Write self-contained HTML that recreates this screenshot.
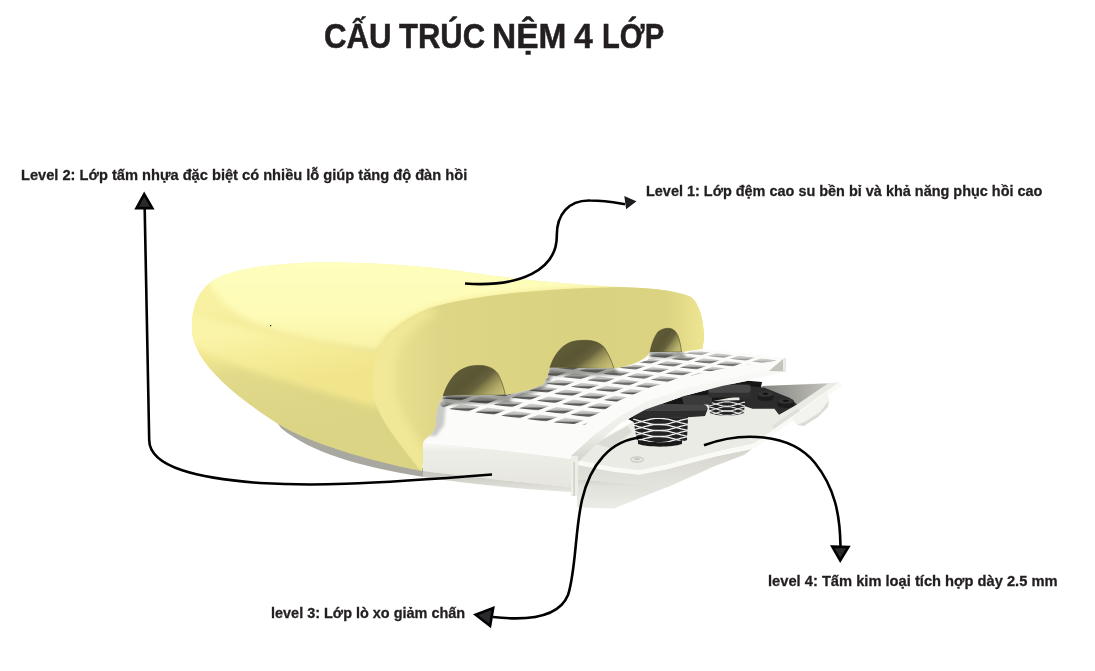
<!DOCTYPE html>
<html><head><meta charset="utf-8"><style>
html,body{margin:0;padding:0;background:#fff;}
body{width:1095px;height:671px;position:relative;overflow:hidden;font-family:"Liberation Sans",sans-serif;font-weight:bold;color:#231f20;}
.t{position:absolute;white-space:nowrap;line-height:1;}
.tw{top:18.8px;font-size:35.6px;transform-origin:0 0;-webkit-text-stroke:0.5px #231f20;}
.lab{font-size:15.5px;transform-origin:0 0;-webkit-text-stroke:0.3px #231f20;}
svg{position:absolute;left:0;top:0;}
</style></head><body>
<svg width="1095" height="671" viewBox="0 0 1095 671">
<defs>
<linearGradient id="gSide" gradientUnits="userSpaceOnUse" x1="250" y1="300" x2="275" y2="440">
 <stop offset="0" stop-color="#f8f1a2"/><stop offset="0.35" stop-color="#f1e690"/><stop offset="0.5" stop-color="#e2da8a"/><stop offset="0.75" stop-color="#ddd686"/><stop offset="1" stop-color="#dbd484"/>
</linearGradient>
<linearGradient id="gBand1" gradientUnits="userSpaceOnUse" x1="270" y1="325" x2="282" y2="385">
 <stop offset="0" stop-color="#faf4a8"/><stop offset="0.5" stop-color="#f6ec98"/><stop offset="1" stop-color="#f1e58c"/>
</linearGradient>
<linearGradient id="gTop" gradientUnits="userSpaceOnUse" x1="300" y1="262" x2="300" y2="340">
 <stop offset="0" stop-color="#fefebd"/><stop offset="0.7" stop-color="#fdfbb6"/><stop offset="1" stop-color="#faf5ab"/>
</linearGradient>
<linearGradient id="gCut" gradientUnits="userSpaceOnUse" x1="373" y1="0" x2="705" y2="0">
 <stop offset="0" stop-color="#f1e898"/><stop offset="0.06" stop-color="#e9e091"/><stop offset="0.2" stop-color="#ded686"/><stop offset="0.6" stop-color="#d9d280"/><stop offset="0.88" stop-color="#dbd382"/><stop offset="1" stop-color="#efe692"/>
</linearGradient>
<linearGradient id="gHole" x1="0" y1="0.2" x2="1" y2="0.75">
 <stop offset="0" stop-color="#625e38"/><stop offset="0.45" stop-color="#5a5634"/><stop offset="0.62" stop-color="#66623d"/><stop offset="0.72" stop-color="#8a844f"/><stop offset="0.85" stop-color="#aca464"/><stop offset="1" stop-color="#c4bc74"/>
</linearGradient>
<linearGradient id="gLip" x1="0" y1="0" x2="0" y2="1">
 <stop offset="0" stop-color="#fafaf7"/><stop offset="0.2" stop-color="#eeeee8"/><stop offset="1" stop-color="#e6e6df"/>
</linearGradient>
<linearGradient id="gUnder" x1="0" y1="0" x2="0" y2="1">
 <stop offset="0" stop-color="#c4c4bc"/><stop offset="1" stop-color="#e6e6e0"/>
</linearGradient>
<linearGradient id="gBase" gradientUnits="userSpaceOnUse" x1="0" y1="466" x2="0" y2="508">
 <stop offset="0" stop-color="#d6d6ce"/><stop offset="0.3" stop-color="#c9c9c1"/><stop offset="0.5" stop-color="#dcdcd5"/><stop offset="1" stop-color="#eaeae4"/>
</linearGradient>
<linearGradient id="gGH" x1="0" y1="0" x2="0" y2="1">
 <stop offset="0" stop-color="#3c3c3a"/><stop offset="0.5" stop-color="#777773"/><stop offset="1" stop-color="#b4b4b0"/>
</linearGradient>
<linearGradient id="gLow" x1="0" y1="0" x2="0" y2="1">
 <stop offset="0" stop-color="#d2d2ca"/><stop offset="0.25" stop-color="#e2e2dc"/><stop offset="1" stop-color="#ecece7"/>
</linearGradient>
<linearGradient id="gSideFace" x1="0" y1="0" x2="0" y2="1">
 <stop offset="0" stop-color="#d6d6ce"/><stop offset="1" stop-color="#e4e4de"/>
</linearGradient>
<linearGradient id="gBand" x1="0" y1="0" x2="0" y2="1">
 <stop offset="0" stop-color="#fafaf8"/><stop offset="0.7" stop-color="#ededE8"/><stop offset="1" stop-color="#d2d2ca"/>
</linearGradient>
<clipPath id="cFoam"><path d="M192,330 C191,312 196,295 207,285 C222,272 250,266 300,263 C360,261 430,266 480,274 C530,281 590,286 620,287 C650,288 675,290 691,297 C700,304 704,322 704,339 L701,356 L600,385 L520,400 L460,405 L446,418 L442,436 L423.4,441.5 L422,471 C380,463 320,447 285,428 C250,407 215,380 200,355 C194,343 192,336 192,330 Z"/></clipPath>
<filter id="fBlur" x="-10%" y="-10%" width="120%" height="120%"><feGaussianBlur stdDeviation="3"/></filter>
<linearGradient id="gWedge" x1="0" y1="0" x2="1" y2="0">
 <stop offset="0" stop-color="#858581"/><stop offset="0.5" stop-color="#a2a29c"/><stop offset="1" stop-color="#c4c4bc"/>
</linearGradient>
<linearGradient id="gHa" x1="0" y1="0" x2="0" y2="1">
 <stop offset="0" stop-color="#dadad6"/><stop offset="0.45" stop-color="#b8b8b4"/><stop offset="0.68" stop-color="#505050"/><stop offset="0.82" stop-color="#646462"/><stop offset="1" stop-color="#c4c4c0"/>
</linearGradient>
<linearGradient id="gHb" x1="0" y1="0" x2="0" y2="1">
 <stop offset="0" stop-color="#d8d8d4"/><stop offset="0.4" stop-color="#bcbcb8"/><stop offset="0.65" stop-color="#6a6a68"/><stop offset="0.85" stop-color="#7a7a78"/><stop offset="1" stop-color="#c0c0bc"/>
</linearGradient>
<linearGradient id="gHc" x1="0" y1="0" x2="0" y2="1">
 <stop offset="0" stop-color="#dadad6"/><stop offset="0.5" stop-color="#c0c0bc"/><stop offset="0.75" stop-color="#9a9a98"/><stop offset="1" stop-color="#c8c8c4"/>
</linearGradient>
<filter id="fBlur2" x="-20%" y="-50%" width="140%" height="200%"><feGaussianBlur stdDeviation="1.5"/></filter>
<clipPath id="cCut"><path d="M422,471 L418.5,468.3 C405,450 385,428 376,405 C371,390 372,365 378,350 C385,333 405,318 430,308 C470,295 540,289 620,287 C650,288 675,290 691,297 C700,304 704,322 704,339 L701,356 L600,385 L520,400 L460,405 L446,418 L442,436 L423.4,441.5 Z"/></clipPath>
<filter id="fBlur6" x="-30%" y="-30%" width="160%" height="160%"><feGaussianBlur stdDeviation="5"/></filter>
<clipPath id="cGrid"><path d="M440.4,401.6 L443.2,396 L505.4,395 C520,392.5 538,388 543.5,384 C547,380 548.5,373 549.9,367.8 L614,368.6 C630,366 645,361 650,352 L682,352 L701,349 L785,358 L785,365.5 L752,373 L722,380 L684,389 L645,402 L620,416 L594,435 L571,456 L571,459 L423.4,441 L432.3,433 C435,429 436,426 436,420 C436.5,412 438,405 440.4,401.6 Z"/></clipPath>
<clipPath id="cHoles"><path d="M440,404 L443.2,396 L505.4,395 C520,392.5 538,388 543.5,384 C547,380 548.5,373 549.9,367.8 L614,368.6 L630,365.7 L648,360 L650,352.4 L681.5,352 L701,351.5 L777,360 L775,361 L744,365 L716,370 L684,377.5 L651,387 L618,401 L598,414 L585,425 L448,414 Z"/></clipPath>
<filter id="fSoft" x="-5%" y="-5%" width="110%" height="110%"><feGaussianBlur stdDeviation="0.7"/></filter>
</defs>

<!-- base under foam -->
<path d="M268,410 C300,436 350,456 424,468 L424,477 C360,467 310,452 281,428 Z" fill="#a8a8a0"/>

<!-- lower base piece -->
<path d="M577,479 L667,487 L640,498 L614,508.5 L577,507.5 Z" fill="url(#gLow)"/>
<!-- side face below rim -->
<path d="M577,464 L639,473 L664.5,469.4 L715,456.6 L752,449 L744,455 L715,466 L667,487.5 L577,479.5 Z" fill="url(#gSideFace)"/>
<!-- metal plate top -->
<path d="M575,455 L600,440 L640,418 L700,400 L760,386 L826,383 L840,382.5 L756,443 L715,452 L664.5,465.6 L639,470.7 L613.4,467.5 L577.6,460.5 Z" fill="#ebebe5"/>
<!-- rim -->
<polyline points="577.6,462.8 613.4,469.5 639,472.5 664.5,467.6 715,454.3 754,446 841,383.5" fill="none" stroke="#f9f9f6" stroke-width="4.6" stroke-linejoin="round"/>
<!-- washer -->
<ellipse cx="637" cy="459.5" rx="6.5" ry="2.6" fill="#e6e6e0" stroke="#b8b8b0" stroke-width="0.8"/><ellipse cx="637" cy="459" rx="3" ry="1.1" fill="#c4c4bc"/>
<!-- far back gray wedge -->
<path d="M762,386 L828,383.5 L797,404.5 L770,398 Z" fill="url(#gWedge)"/>
<!-- shadow under band -->
<path d="M628,419 L645.6,409.5 L684,396 L722,386 L748,380.8 L762,382 L760,392 L708,402 L690,412 L660,420 L634,422 Z" fill="#161616"/>
<path d="M596,444 L606,438 L628,426 L632,432 L610,448 Z" fill="#dcdcd6"/>
<!-- right dark polygon -->
<path d="M738,385 L764,387.4 L790,398 L797,404.6 L779,414.8 L774.4,408.8 L752.5,408.8 L740,404.6 Z" fill="#2c2c2c"/>
<!-- spring 2 -->
<path d="M708,401 L745,400 L744,413 C736,416.5 716,416.5 710,413 Z" fill="#232323"/>
<g stroke="#e4e4e4" stroke-width="1.1" fill="none"><polyline points="709.0,402.1 710.5,402.4 712.0,402.8 713.5,403.2 715.0,403.7 716.5,404.2 718.0,404.6 719.5,405.1 721.0,405.4 722.5,405.8 724.0,406.0 725.5,406.1 727.0,406.2 728.5,406.1 730.0,406.0 731.5,405.8 733.0,405.4 734.5,405.1 736.0,404.6 737.5,404.2 739.0,403.7 740.5,403.2 742.0,402.8 743.5,402.4 745.0,402.1"/><polyline points="709.0,405.9 710.5,405.6 712.0,405.2 713.5,404.8 715.0,404.3 716.5,403.8 718.0,403.4 719.5,402.9 721.0,402.6 722.5,402.2 724.0,402.0 725.5,401.9 727.0,401.8 728.5,401.9 730.0,402.0 731.5,402.2 733.0,402.6 734.5,402.9 736.0,403.4 737.5,403.8 739.0,404.3 740.5,404.8 742.0,405.2 743.5,405.6 745.0,405.9"/><polyline points="709.0,406.9 710.5,407.2 712.0,407.6 713.5,408.0 715.0,408.5 716.5,409.0 718.0,409.4 719.5,409.9 721.0,410.2 722.5,410.6 724.0,410.8 725.5,410.9 727.0,411.0 728.5,410.9 730.0,410.8 731.5,410.6 733.0,410.2 734.5,409.9 736.0,409.4 737.5,409.0 739.0,408.5 740.5,408.0 742.0,407.6 743.5,407.2 745.0,406.9"/><polyline points="709.0,410.7 710.5,410.4 712.0,410.0 713.5,409.6 715.0,409.1 716.5,408.6 718.0,408.2 719.5,407.7 721.0,407.4 722.5,407.0 724.0,406.8 725.5,406.7 727.0,406.6 728.5,406.7 730.0,406.8 731.5,407.0 733.0,407.4 734.5,407.7 736.0,408.2 737.5,408.6 739.0,409.1 740.5,409.6 742.0,410.0 743.5,410.4 745.0,410.7"/><polyline points="709.0,411.3 710.5,411.6 712.0,412.0 713.5,412.4 715.0,412.9 716.5,413.4 718.0,413.8 719.5,414.3 721.0,414.6 722.5,415.0 724.0,415.2 725.5,415.3 727.0,415.4 728.5,415.3 730.0,415.2 731.5,415.0 733.0,414.6 734.5,414.3 736.0,413.8 737.5,413.4 739.0,412.9 740.5,412.4 742.0,412.0 743.5,411.6 745.0,411.3"/><polyline points="709.0,415.1 710.5,414.8 712.0,414.4 713.5,414.0 715.0,413.5 716.5,413.0 718.0,412.6 719.5,412.1 721.0,411.8 722.5,411.4 724.0,411.2 725.5,411.1 727.0,411.0 728.5,411.1 730.0,411.2 731.5,411.4 733.0,411.8 734.5,412.1 736.0,412.6 737.5,413.0 739.0,413.5 740.5,414.0 742.0,414.4 743.5,414.8 745.0,415.1"/></g>
<!-- bar + plate 2 -->
<path d="M681,395.5 L712,395 L712,404.5 L684,405 Z" fill="#3a3a3a"/>
<rect x="708" y="384.6" width="43" height="12.8" rx="3" fill="#303030"/>
<rect x="708.5" y="384.8" width="42" height="8" rx="3" fill="#474747"/>
<!-- knobs -->
<path d="M757.5,394 L773.5,394 L773.5,399 C771,401.5 760,401.5 757.5,399 Z" fill="#1c1c1c"/><ellipse cx="765.5" cy="394" rx="8" ry="2.8" fill="#333"/><ellipse cx="765.5" cy="393.8" rx="3" ry="1" fill="#111"/>
<path d="M777.5,401 L794,401 L794,406 C791,408.5 780,408.5 777.5,406 Z" fill="#1c1c1c"/><ellipse cx="785.8" cy="401" rx="8.2" ry="2.8" fill="#333"/><ellipse cx="785.8" cy="400.8" rx="3" ry="1" fill="#111"/>
<!-- spring 1 -->
<path d="M633,418 L688,417 L687,440 C676,446 646,446 637,441 Z" fill="#232323"/>
<g stroke="#efefef" stroke-width="1.3" fill="none"><polyline points="633.0,419.2 635.3,419.7 637.6,420.3 639.9,421.0 642.2,421.6 644.5,422.3 646.8,422.9 649.0,423.5 651.3,424.0 653.6,424.3 655.9,424.6 658.2,424.7 660.5,424.7 662.8,424.5 665.1,424.2 667.4,423.8 669.7,423.3 672.0,422.7 674.2,422.1 676.5,421.4 678.8,420.8 681.1,420.1 683.4,419.6 685.7,419.1 688.0,418.7"/><polyline points="633.0,423.8 635.3,423.3 637.6,422.7 639.9,422.0 642.2,421.4 644.5,420.7 646.8,420.1 649.0,419.5 651.3,419.0 653.6,418.7 655.9,418.4 658.2,418.3 660.5,418.3 662.8,418.5 665.1,418.8 667.4,419.2 669.7,419.7 672.0,420.3 674.2,420.9 676.5,421.6 678.8,422.2 681.1,422.9 683.4,423.4 685.7,423.9 688.0,424.3"/><polyline points="633.0,425.2 635.3,425.7 637.6,426.3 639.9,427.0 642.2,427.6 644.5,428.3 646.8,428.9 649.0,429.5 651.3,430.0 653.6,430.3 655.9,430.6 658.2,430.7 660.5,430.7 662.8,430.5 665.1,430.2 667.4,429.8 669.7,429.3 672.0,428.7 674.2,428.1 676.5,427.4 678.8,426.8 681.1,426.1 683.4,425.6 685.7,425.1 688.0,424.7"/><polyline points="633.0,429.8 635.3,429.3 637.6,428.7 639.9,428.0 642.2,427.4 644.5,426.7 646.8,426.1 649.0,425.5 651.3,425.0 653.6,424.7 655.9,424.4 658.2,424.3 660.5,424.3 662.8,424.5 665.1,424.8 667.4,425.2 669.7,425.7 672.0,426.3 674.2,426.9 676.5,427.6 678.8,428.2 681.1,428.9 683.4,429.4 685.7,429.9 688.0,430.3"/><polyline points="633.0,431.2 635.3,431.7 637.6,432.3 639.9,433.0 642.2,433.6 644.5,434.3 646.8,434.9 649.0,435.5 651.3,436.0 653.6,436.3 655.9,436.6 658.2,436.7 660.5,436.7 662.8,436.5 665.1,436.2 667.4,435.8 669.7,435.3 672.0,434.7 674.2,434.1 676.5,433.4 678.8,432.8 681.1,432.1 683.4,431.6 685.7,431.1 688.0,430.7"/><polyline points="633.0,435.8 635.3,435.3 637.6,434.7 639.9,434.0 642.2,433.4 644.5,432.7 646.8,432.1 649.0,431.5 651.3,431.0 653.6,430.7 655.9,430.4 658.2,430.3 660.5,430.3 662.8,430.5 665.1,430.8 667.4,431.2 669.7,431.7 672.0,432.3 674.2,432.9 676.5,433.6 678.8,434.2 681.1,434.9 683.4,435.4 685.7,435.9 688.0,436.3"/><polyline points="633.0,437.2 635.3,437.7 637.6,438.3 639.9,439.0 642.2,439.6 644.5,440.3 646.8,440.9 649.0,441.5 651.3,442.0 653.6,442.3 655.9,442.6 658.2,442.7 660.5,442.7 662.8,442.5 665.1,442.2 667.4,441.8 669.7,441.3 672.0,440.7 674.2,440.1 676.5,439.4 678.8,438.8 681.1,438.1 683.4,437.6 685.7,437.1 688.0,436.7"/><polyline points="633.0,441.8 635.3,441.3 637.6,440.7 639.9,440.0 642.2,439.4 644.5,438.7 646.8,438.1 649.0,437.5 651.3,437.0 653.6,436.7 655.9,436.4 658.2,436.3 660.5,436.3 662.8,436.5 665.1,436.8 667.4,437.2 669.7,437.7 672.0,438.3 674.2,438.9 676.5,439.6 678.8,440.2 681.1,440.9 683.4,441.4 685.7,441.9 688.0,442.3"/></g>
<path d="M638,440 C650,443 674,443 682,440 L682,444 C672,447.5 648,447.5 638,444 Z" fill="#1a1a1a"/>
<!-- top plate 1 -->
<path d="M633,415 L640,410 L652,403.8 L701.8,404.4 C706,405 707.5,406.5 707.5,409 L707,411 L705,416 C690,417.5 660,418 633,418.5 Z" fill="#2c2c2c"/>
<path d="M640,410 L652,403.8 L701.8,404.4 C706,405 707.5,406.5 707.5,409 L706,410.5 C690,411 660,411 640,411 Z" fill="#444"/>
<!-- right tabs -->
<path d="M792,418 L827,392 L829,400 L820,412 L806,421 L797,425 Z" fill="#f3f3ef"/>
<path d="M797,425 L806,421 L820,412 L829,400 L828,407 L818,417 L804,426 Z" fill="#dcdcd6"/>
<path d="M772,426 L798,408 L800,411 L774,429 Z" fill="#e0e0da"/>
<!-- foam silhouette -->
<path d="M192,330 C191,312 196,295 207,285 C222,272 250,266 300,263 C360,261 430,266 480,274 C530,281 590,286 620,287 C650,288 675,290 691,297 C700,304 704,322 704,339 L701,356 L600,385 L520,400 L460,405 L446,418 L442,436 L423.4,441.5 L422,471 C380,463 320,447 285,428 C250,407 215,380 200,355 C194,343 192,336 192,330 Z" fill="url(#gSide)"/>
<!-- top surface -->
<g clip-path="url(#cFoam)"><path filter="url(#fBlur)" d="M186,312 C230,326 300,340 380,352 L378,408 C350,400 300,386 250,370 C225,361 205,352 186,342 Z" fill="url(#gBand1)"/></g>
<g clip-path="url(#cFoam)"><path filter="url(#fBlur)" d="M205,275 C222,264 250,259 300,257 C360,255 430,260 480,268 C530,276 590,282 640,284 L620,287 C560,288 480,293 430,308 C405,318 385,333 378,350 C340,346 300,338 265,327 C238,318 218,303 205,275 Z" fill="url(#gTop)"/></g>
<!-- cut face -->
<path d="M422,471 L418.5,468.3 C405,450 385,428 376,405 C371,390 372,365 378,350 C385,333 405,318 430,308 C470,295 540,289 620,287 C650,288 675,290 691,297 C700,304 704,322 704,339 L701,356 L600,385 L520,400 L460,405 L446,418 L442,436 L423.4,441.5 Z" fill="url(#gCut)"/>
<g clip-path="url(#cCut)"><path filter="url(#fBlur6)" d="M425,478 L414,470 C400,450 380,428 372,405 C367,390 368,365 374,350 C381,333 401,318 426,308 L440,312 C420,322 404,336 398,352 C393,366 393,388 398,402 C405,425 425,448 442,468 Z" fill="#f2e898" opacity="0.9"/></g>
<!-- holes in foam -->
<path d="M443.2,396 C446,386 452,376 459,371 C466,366.5 472,365.4 479,365.4 C487,365.4 494,368 498,374 C502,381 504,389 505.4,395 Z" fill="url(#gHole)" stroke="#4a4728" stroke-width="0.6"/>
<path d="M549.9,367.8 C552.5,359 558,350 564.5,345.5 C571,341 577,340.3 586,340.3 C594,340.5 601,343 605,348.5 C609,355 612,362 614,368.6 Z" fill="url(#gHole)" stroke="#4a4728" stroke-width="0.6"/>
<path d="M650,352.4 C651.5,344 654.5,336 658.5,331.5 C662,329 665,328.3 668.5,328.3 C672.5,328.5 676,331 678,336 C680,341 681,347 681.5,352 Z" fill="url(#gHole)" stroke="#4a4728" stroke-width="0.6"/>

<!-- grid plate top surface -->
<path d="M440.4,401.6 L443.2,396 L505.4,395 C520,392.5 538,388 543.5,384 C547,380 548.5,373 549.9,367.8 L614,368.6 C630,366 645,361 650,352 L682,352 L701,349 L785,358 L785,365.5 L752,373 L722,380 L684,389 L645,402 L620,416 L594,435 L571,456 L571,459 L423.4,441 L432.3,433 C435,429 436,426 436,420 C436.5,412 438,405 440.4,401.6 Z" fill="#fbfbf9"/>
<g clip-path="url(#cHoles)"><g filter="url(#fSoft)">
<path fill="url(#gHa)" d="M267.2,385.1L285.9,387.6L297.8,382.9L279.1,380.4Z"/>
<path fill="url(#gHa)" d="M293.2,388.5L311.9,391.0L323.8,386.3L305.1,383.8Z"/>
<path fill="url(#gHa)" d="M319.2,391.9L337.9,394.4L349.8,389.7L331.1,387.2Z"/>
<path fill="url(#gHa)" d="M345.2,395.3L363.9,397.8L375.8,393.1L357.1,390.6Z"/>
<path fill="url(#gHa)" d="M371.2,398.7L389.9,401.2L401.8,396.5L383.1,394.0Z"/>
<path fill="url(#gHa)" d="M397.2,402.1L415.9,404.6L427.8,399.9L409.1,397.4Z"/>
<path fill="url(#gHa)" d="M423.2,405.5L441.9,408.0L453.8,403.3L435.1,400.8Z"/>
<path fill="url(#gHa)" d="M449.2,408.9L467.9,411.4L479.8,406.7L461.1,404.2Z"/>
<path fill="url(#gHa)" d="M475.2,412.3L493.9,414.8L505.8,410.1L487.1,407.6Z"/>
<path fill="url(#gHa)" d="M501.2,415.7L519.9,418.2L531.8,413.5L513.1,411.0Z"/>
<path fill="url(#gHa)" d="M527.2,419.1L545.9,421.6L557.8,416.9L539.1,414.4Z"/>
<path fill="url(#gHa)" d="M553.2,422.5L571.9,425.0L583.8,420.3L565.1,417.8Z"/>
<path fill="url(#gHa)" d="M579.2,425.9L597.9,428.4L609.8,423.7L591.1,421.2Z"/>
<path fill="url(#gHa)" d="M605.2,429.3L623.9,431.8L635.8,427.1L617.1,424.6Z"/>
<path fill="url(#gHa)" d="M631.2,432.7L649.9,435.2L661.8,430.5L643.1,428.0Z"/>
<path fill="url(#gHa)" d="M657.2,436.1L675.9,438.6L687.8,433.9L669.1,431.4Z"/>
<path fill="url(#gHa)" d="M683.2,439.5L701.9,442.0L713.8,437.3L695.1,434.8Z"/>
<path fill="url(#gHa)" d="M709.2,442.9L727.9,445.4L739.8,440.7L721.1,438.2Z"/>
<path fill="url(#gHa)" d="M735.2,446.3L753.9,448.8L765.8,444.1L747.1,441.6Z"/>
<path fill="url(#gHa)" d="M761.2,449.7L779.9,452.2L791.8,447.5L773.1,445.0Z"/>
<path fill="url(#gHa)" d="M288.7,378.2L307.1,380.6L318.7,376.0L300.2,373.6Z"/>
<path fill="url(#gHa)" d="M314.3,381.5L332.7,383.9L344.3,379.3L325.9,376.9Z"/>
<path fill="url(#gHa)" d="M339.9,384.8L358.3,387.2L369.9,382.6L351.5,380.2Z"/>
<path fill="url(#gHa)" d="M365.5,388.2L384.0,390.6L395.5,386.0L377.1,383.6Z"/>
<path fill="url(#gHa)" d="M391.1,391.5L409.6,393.9L421.2,389.3L402.7,386.9Z"/>
<path fill="url(#gHa)" d="M416.7,394.8L435.2,397.2L446.8,392.6L428.3,390.2Z"/>
<path fill="url(#gHa)" d="M442.4,398.2L460.8,400.6L472.4,396.0L454.0,393.6Z"/>
<path fill="url(#gHa)" d="M468.0,401.5L486.4,403.9L498.0,399.3L479.6,396.9Z"/>
<path fill="url(#gHa)" d="M493.6,404.8L512.0,407.2L523.6,402.6L505.2,400.2Z"/>
<path fill="url(#gHa)" d="M519.2,408.2L537.7,410.6L549.3,406.0L530.8,403.6Z"/>
<path fill="url(#gHa)" d="M544.8,411.5L563.3,413.9L574.9,409.3L556.4,406.9Z"/>
<path fill="url(#gHa)" d="M570.5,414.8L588.9,417.2L600.5,412.6L582.0,410.2Z"/>
<path fill="url(#gHa)" d="M596.1,418.2L614.5,420.6L626.1,416.0L607.7,413.6Z"/>
<path fill="url(#gHa)" d="M621.7,421.5L640.1,423.9L651.7,419.3L633.3,416.9Z"/>
<path fill="url(#gHa)" d="M647.3,424.8L665.8,427.2L677.3,422.6L658.9,420.2Z"/>
<path fill="url(#gHa)" d="M672.9,428.1L691.4,430.5L703.0,426.0L684.5,423.6Z"/>
<path fill="url(#gHa)" d="M698.6,431.5L717.0,433.9L728.6,429.3L710.1,426.9Z"/>
<path fill="url(#gHa)" d="M724.2,434.8L742.6,437.2L754.2,432.6L735.8,430.2Z"/>
<path fill="url(#gHa)" d="M749.8,438.1L768.2,440.5L779.8,436.0L761.4,433.6Z"/>
<path fill="url(#gHa)" d="M775.4,441.5L793.9,443.9L805.4,439.3L787.0,436.9Z"/>
<path fill="url(#gHa)" d="M309.7,371.4L327.9,373.8L339.2,369.4L321.0,367.0Z"/>
<path fill="url(#gHa)" d="M334.9,374.7L353.1,377.0L364.4,372.6L346.3,370.3Z"/>
<path fill="url(#gHa)" d="M360.2,378.0L378.3,380.3L389.7,375.9L371.5,373.5Z"/>
<path fill="url(#gHa)" d="M385.4,381.2L403.6,383.6L414.9,379.1L396.7,376.8Z"/>
<path fill="url(#gHa)" d="M410.6,384.5L428.8,386.8L440.1,382.4L422.0,380.1Z"/>
<path fill="url(#gHa)" d="M435.9,387.8L454.0,390.1L465.4,385.7L447.2,383.3Z"/>
<path fill="url(#gHa)" d="M461.1,391.0L479.3,393.4L490.6,388.9L472.4,386.6Z"/>
<path fill="url(#gHa)" d="M486.4,394.3L504.5,396.6L515.8,392.2L497.7,389.9Z"/>
<path fill="url(#gHa)" d="M511.6,397.5L529.8,399.9L541.1,395.5L522.9,393.1Z"/>
<path fill="url(#gHa)" d="M536.8,400.8L555.0,403.2L566.3,398.7L548.2,396.4Z"/>
<path fill="url(#gHa)" d="M562.1,404.1L580.2,406.4L591.6,402.0L573.4,399.6Z"/>
<path fill="url(#gHa)" d="M587.3,407.3L605.5,409.7L616.8,405.3L598.6,402.9Z"/>
<path fill="url(#gHa)" d="M612.5,410.6L630.7,412.9L642.0,408.5L623.9,406.2Z"/>
<path fill="url(#gHa)" d="M637.8,413.9L655.9,416.2L667.3,411.8L649.1,409.4Z"/>
<path fill="url(#gHa)" d="M663.0,417.1L681.2,419.5L692.5,415.0L674.3,412.7Z"/>
<path fill="url(#gHa)" d="M688.2,420.4L706.4,422.7L717.7,418.3L699.6,416.0Z"/>
<path fill="url(#gHa)" d="M713.5,423.7L731.7,426.0L743.0,421.6L724.8,419.2Z"/>
<path fill="url(#gHa)" d="M738.7,426.9L756.9,429.3L768.2,424.8L750.1,422.5Z"/>
<path fill="url(#gHa)" d="M764.0,430.2L782.1,432.5L793.5,428.1L775.3,425.8Z"/>
<path fill="url(#gHa)" d="M789.2,433.4L807.4,435.8L818.7,431.4L800.5,429.0Z"/>
<path fill="url(#gHa)" d="M330.3,364.9L348.2,367.2L359.3,363.0L341.4,360.7Z"/>
<path fill="url(#gHa)" d="M355.2,368.1L373.1,370.4L384.1,366.2L366.3,363.9Z"/>
<path fill="url(#gHa)" d="M380.0,371.3L397.9,373.6L409.0,369.4L391.1,367.1Z"/>
<path fill="url(#gHa)" d="M404.9,374.5L422.8,376.8L433.9,372.5L416.0,370.2Z"/>
<path fill="url(#gHa)" d="M429.7,377.7L447.6,380.0L458.7,375.7L440.8,373.4Z"/>
<path fill="url(#gHa)" d="M454.6,380.9L472.5,383.2L483.6,378.9L465.7,376.6Z"/>
<path fill="url(#gHa)" d="M479.5,384.1L497.4,386.4L508.4,382.1L490.5,379.8Z"/>
<path fill="url(#gHa)" d="M504.3,387.3L522.2,389.6L533.3,385.3L515.4,383.0Z"/>
<path fill="url(#gHa)" d="M529.2,390.5L547.1,392.8L558.1,388.5L540.2,386.2Z"/>
<path fill="url(#gHa)" d="M554.0,393.7L571.9,396.0L583.0,391.7L565.1,389.4Z"/>
<path fill="url(#gHa)" d="M578.9,396.9L596.8,399.2L607.9,394.9L590.0,392.6Z"/>
<path fill="url(#gHa)" d="M603.7,400.1L621.6,402.4L632.7,398.1L614.8,395.8Z"/>
<path fill="url(#gHa)" d="M628.6,403.3L646.5,405.6L657.6,401.3L639.7,399.0Z"/>
<path fill="url(#gHa)" d="M653.5,406.5L671.3,408.8L682.4,404.5L664.5,402.2Z"/>
<path fill="url(#gHa)" d="M678.3,409.7L696.2,412.0L707.3,407.7L689.4,405.4Z"/>
<path fill="url(#gHa)" d="M703.2,412.9L721.1,415.2L732.1,410.9L714.2,408.6Z"/>
<path fill="url(#gHa)" d="M728.0,416.1L745.9,418.4L757.0,414.1L739.1,411.8Z"/>
<path fill="url(#gHa)" d="M752.9,419.3L770.8,421.6L781.8,417.3L763.9,415.0Z"/>
<path fill="url(#gHa)" d="M777.7,422.5L795.6,424.8L806.7,420.5L788.8,418.2Z"/>
<path fill="url(#gHa)" d="M802.6,425.7L820.5,428.0L831.6,423.7L813.7,421.4Z"/>
<path fill="url(#gHa)" d="M350.6,358.7L368.2,360.9L379.0,356.8L361.4,354.6Z"/>
<path fill="url(#gHa)" d="M375.0,361.8L392.7,364.1L403.5,359.9L385.8,357.7Z"/>
<path fill="url(#gHa)" d="M399.5,364.9L417.1,367.2L427.9,363.1L410.3,360.8Z"/>
<path fill="url(#gHa)" d="M424.0,368.1L441.6,370.3L452.4,366.2L434.8,363.9Z"/>
<path fill="url(#gHa)" d="M448.5,371.2L466.1,373.4L476.9,369.3L459.3,367.1Z"/>
<path fill="url(#gHa)" d="M472.9,374.3L490.6,376.6L501.4,372.4L483.7,370.2Z"/>
<path fill="url(#gHa)" d="M497.4,377.4L515.0,379.7L525.8,375.6L508.2,373.3Z"/>
<path fill="url(#gHa)" d="M521.9,380.6L539.5,382.8L550.3,378.7L532.7,376.5Z"/>
<path fill="url(#gHa)" d="M546.4,383.7L564.0,386.0L574.8,381.8L557.2,379.6Z"/>
<path fill="url(#gHa)" d="M570.8,386.8L588.5,389.1L599.3,385.0L581.6,382.7Z"/>
<path fill="url(#gHa)" d="M595.3,390.0L612.9,392.2L623.7,388.1L606.1,385.8Z"/>
<path fill="url(#gHa)" d="M619.8,393.1L637.4,395.3L648.2,391.2L630.6,389.0Z"/>
<path fill="url(#gHa)" d="M644.3,396.2L661.9,398.5L672.7,394.3L655.1,392.1Z"/>
<path fill="url(#gHa)" d="M668.7,399.3L686.4,401.6L697.2,397.5L679.5,395.2Z"/>
<path fill="url(#gHa)" d="M693.2,402.5L710.8,404.7L721.6,400.6L704.0,398.3Z"/>
<path fill="url(#gHa)" d="M717.7,405.6L735.3,407.9L746.1,403.7L728.5,401.5Z"/>
<path fill="url(#gHa)" d="M742.2,408.7L759.8,411.0L770.6,406.9L753.0,404.6Z"/>
<path fill="url(#gHa)" d="M766.6,411.9L784.2,414.1L795.1,410.0L777.4,407.7Z"/>
<path fill="url(#gHa)" d="M791.1,415.0L808.7,417.2L819.5,413.1L801.9,410.9Z"/>
<path fill="url(#gHa)" d="M815.6,418.1L833.2,420.4L844.0,416.2L826.4,414.0Z"/>
<path fill="url(#gHb)" d="M370.4,352.7L387.7,354.9L398.3,350.9L381.0,348.7Z"/>
<path fill="url(#gHb)" d="M394.5,355.7L411.8,357.9L422.4,354.0L405.0,351.8Z"/>
<path fill="url(#gHb)" d="M418.6,358.8L435.9,361.0L446.5,357.0L429.1,354.8Z"/>
<path fill="url(#gHb)" d="M442.7,361.8L460.0,364.0L470.6,360.1L453.2,357.9Z"/>
<path fill="url(#gHb)" d="M466.8,364.9L484.1,367.1L494.7,363.1L477.3,360.9Z"/>
<path fill="url(#gHb)" d="M490.9,368.0L508.2,370.2L518.8,366.2L501.4,364.0Z"/>
<path fill="url(#gHb)" d="M515.0,371.0L532.3,373.2L542.9,369.3L525.5,367.1Z"/>
<path fill="url(#gHb)" d="M539.0,374.1L556.4,376.3L567.0,372.3L549.6,370.1Z"/>
<path fill="url(#gHb)" d="M563.1,377.1L580.5,379.3L591.0,375.4L573.7,373.2Z"/>
<path fill="url(#gHb)" d="M587.2,380.2L604.6,382.4L615.1,378.4L597.8,376.2Z"/>
<path fill="url(#gHb)" d="M611.3,383.3L628.7,385.5L639.2,381.5L621.9,379.3Z"/>
<path fill="url(#gHb)" d="M635.4,386.3L652.8,388.5L663.3,384.6L646.0,382.4Z"/>
<path fill="url(#gHb)" d="M659.5,389.4L676.9,391.6L687.4,387.6L670.1,385.4Z"/>
<path fill="url(#gHb)" d="M683.6,392.4L701.0,394.6L711.5,390.7L694.2,388.5Z"/>
<path fill="url(#gHb)" d="M707.7,395.5L725.0,397.7L735.6,393.7L718.3,391.5Z"/>
<path fill="url(#gHb)" d="M731.8,398.6L749.1,400.8L759.7,396.8L742.4,394.6Z"/>
<path fill="url(#gHb)" d="M755.9,401.6L773.2,403.8L783.8,399.9L766.4,397.7Z"/>
<path fill="url(#gHb)" d="M780.0,404.7L797.3,406.9L807.9,402.9L790.5,400.7Z"/>
<path fill="url(#gHb)" d="M804.1,407.7L821.4,409.9L832.0,406.0L814.6,403.8Z"/>
<path fill="url(#gHb)" d="M828.2,410.8L845.5,413.0L856.1,409.0L838.7,406.8Z"/>
<path fill="url(#gHb)" d="M389.8,346.9L406.9,349.0L417.2,345.2L400.1,343.1Z"/>
<path fill="url(#gHb)" d="M413.5,349.9L430.6,352.0L440.9,348.2L423.8,346.1Z"/>
<path fill="url(#gHb)" d="M437.3,352.9L454.3,355.0L464.6,351.2L447.6,349.1Z"/>
<path fill="url(#gHb)" d="M461.0,355.9L478.0,358.0L488.3,354.2L471.3,352.0Z"/>
<path fill="url(#gHb)" d="M484.7,358.9L501.7,361.0L512.1,357.2L495.0,355.0Z"/>
<path fill="url(#gHb)" d="M508.4,361.8L525.5,364.0L535.8,360.2L518.7,358.0Z"/>
<path fill="url(#gHb)" d="M532.1,364.8L549.2,367.0L559.5,363.2L542.4,361.0Z"/>
<path fill="url(#gHb)" d="M555.8,367.8L572.9,370.0L583.2,366.2L566.1,364.0Z"/>
<path fill="url(#gHb)" d="M579.5,370.8L596.6,373.0L606.9,369.2L589.8,367.0Z"/>
<path fill="url(#gHb)" d="M603.2,373.8L620.3,376.0L630.6,372.2L613.5,370.0Z"/>
<path fill="url(#gHb)" d="M626.9,376.8L644.0,379.0L654.3,375.1L637.3,373.0Z"/>
<path fill="url(#gHb)" d="M650.7,379.8L667.7,382.0L678.0,378.1L661.0,376.0Z"/>
<path fill="url(#gHb)" d="M674.4,382.8L691.4,384.9L701.7,381.1L684.7,379.0Z"/>
<path fill="url(#gHb)" d="M698.1,385.8L715.2,387.9L725.5,384.1L708.4,382.0Z"/>
<path fill="url(#gHb)" d="M721.8,388.8L738.9,390.9L749.2,387.1L732.1,385.0Z"/>
<path fill="url(#gHb)" d="M745.5,391.8L762.6,393.9L772.9,390.1L755.8,388.0Z"/>
<path fill="url(#gHb)" d="M769.2,394.8L786.3,396.9L796.6,393.1L779.5,390.9Z"/>
<path fill="url(#gHb)" d="M792.9,397.8L810.0,399.9L820.3,396.1L803.2,393.9Z"/>
<path fill="url(#gHb)" d="M816.6,400.7L833.7,402.9L844.0,399.1L826.9,396.9Z"/>
<path fill="url(#gHb)" d="M840.4,403.7L857.4,405.9L867.7,402.1L850.7,399.9Z"/>
<path fill="url(#gHb)" d="M408.9,341.3L425.7,343.5L435.7,339.8L418.9,337.7Z"/>
<path fill="url(#gHb)" d="M432.2,344.3L449.0,346.4L459.0,342.7L442.2,340.6Z"/>
<path fill="url(#gHb)" d="M455.5,347.2L472.3,349.3L482.4,345.6L465.6,343.5Z"/>
<path fill="url(#gHb)" d="M478.9,350.1L495.7,352.2L505.7,348.6L488.9,346.5Z"/>
<path fill="url(#gHb)" d="M502.2,353.0L519.0,355.2L529.0,351.5L512.2,349.4Z"/>
<path fill="url(#gHb)" d="M525.5,356.0L542.3,358.1L552.4,354.4L535.6,352.3Z"/>
<path fill="url(#gHb)" d="M548.8,358.9L565.6,361.0L575.7,357.3L558.9,355.2Z"/>
<path fill="url(#gHb)" d="M572.2,361.8L589.0,363.9L599.0,360.3L582.2,358.2Z"/>
<path fill="url(#gHb)" d="M595.5,364.7L612.3,366.8L622.4,363.2L605.6,361.1Z"/>
<path fill="url(#gHb)" d="M618.8,367.7L635.6,369.8L645.7,366.1L628.9,364.0Z"/>
<path fill="url(#gHb)" d="M642.2,370.6L659.0,372.7L669.0,369.0L652.2,366.9Z"/>
<path fill="url(#gHb)" d="M665.5,373.5L682.3,375.6L692.3,372.0L675.5,369.9Z"/>
<path fill="url(#gHb)" d="M688.8,376.4L705.6,378.5L715.7,374.9L698.9,372.8Z"/>
<path fill="url(#gHb)" d="M712.2,379.4L729.0,381.5L739.0,377.8L722.2,375.7Z"/>
<path fill="url(#gHb)" d="M735.5,382.3L752.3,384.4L762.3,380.7L745.5,378.6Z"/>
<path fill="url(#gHb)" d="M758.8,385.2L775.6,387.3L785.7,383.7L768.9,381.5Z"/>
<path fill="url(#gHb)" d="M782.2,388.1L799.0,390.2L809.0,386.6L792.2,384.5Z"/>
<path fill="url(#gHb)" d="M805.5,391.1L822.3,393.2L832.3,389.5L815.5,387.4Z"/>
<path fill="url(#gHb)" d="M828.8,394.0L845.6,396.1L855.7,392.4L838.9,390.3Z"/>
<path fill="url(#gHb)" d="M852.1,396.9L868.9,399.0L879.0,395.4L862.2,393.2Z"/>
<path fill="url(#gHb)" d="M427.5,336.1L444.0,338.1L453.8,334.6L437.3,332.5Z"/>
<path fill="url(#gHb)" d="M450.4,338.9L467.0,341.0L476.8,337.5L460.2,335.4Z"/>
<path fill="url(#gHb)" d="M473.4,341.8L489.9,343.8L499.7,340.3L483.2,338.3Z"/>
<path fill="url(#gHb)" d="M496.3,344.6L512.9,346.7L522.7,343.2L506.1,341.1Z"/>
<path fill="url(#gHb)" d="M519.3,347.5L535.8,349.5L545.6,346.0L529.1,344.0Z"/>
<path fill="url(#gHb)" d="M542.2,350.3L558.8,352.4L568.6,348.9L552.0,346.8Z"/>
<path fill="url(#gHb)" d="M565.2,353.2L581.7,355.2L591.5,351.7L575.0,349.7Z"/>
<path fill="url(#gHb)" d="M588.1,356.0L604.7,358.1L614.5,354.6L597.9,352.5Z"/>
<path fill="url(#gHb)" d="M611.1,358.9L627.6,361.0L637.4,357.5L620.9,355.4Z"/>
<path fill="url(#gHb)" d="M634.0,361.8L650.6,363.8L660.4,360.3L643.8,358.3Z"/>
<path fill="url(#gHb)" d="M657.0,364.6L673.5,366.7L683.3,363.2L666.8,361.1Z"/>
<path fill="url(#gHb)" d="M679.9,367.5L696.5,369.5L706.3,366.0L689.7,364.0Z"/>
<path fill="url(#gHb)" d="M702.9,370.3L719.4,372.4L729.2,368.9L712.7,366.8Z"/>
<path fill="url(#gHb)" d="M725.8,373.2L742.4,375.2L752.2,371.7L735.6,369.7Z"/>
<path fill="url(#gHb)" d="M748.8,376.0L765.3,378.1L775.1,374.6L758.6,372.5Z"/>
<path fill="url(#gHb)" d="M771.7,378.9L788.3,380.9L798.1,377.4L781.5,375.4Z"/>
<path fill="url(#gHb)" d="M794.7,381.7L811.2,383.8L821.0,380.3L804.5,378.2Z"/>
<path fill="url(#gHb)" d="M817.6,384.6L834.2,386.7L844.0,383.2L827.4,381.1Z"/>
<path fill="url(#gHb)" d="M840.6,387.5L857.1,389.5L866.9,386.0L850.4,384.0Z"/>
<path fill="url(#gHb)" d="M863.5,390.3L880.1,392.4L889.8,388.9L873.3,386.8Z"/>
<path fill="url(#gHb)" d="M445.7,331.0L462.0,333.0L471.5,329.7L455.3,327.6Z"/>
<path fill="url(#gHb)" d="M468.3,333.8L484.5,335.8L494.1,332.4L477.8,330.4Z"/>
<path fill="url(#gHb)" d="M490.9,336.6L507.1,338.6L516.7,335.2L500.4,333.2Z"/>
<path fill="url(#gHb)" d="M513.4,339.4L529.7,341.4L539.2,338.0L523.0,336.0Z"/>
<path fill="url(#gHb)" d="M536.0,342.1L552.3,344.2L561.8,340.8L545.5,338.8Z"/>
<path fill="url(#gHb)" d="M558.6,344.9L574.8,346.9L584.4,343.6L568.1,341.6Z"/>
<path fill="url(#gHb)" d="M581.1,347.7L597.4,349.7L606.9,346.4L590.7,344.4Z"/>
<path fill="url(#gHb)" d="M603.7,350.5L620.0,352.5L629.5,349.2L613.2,347.2Z"/>
<path fill="url(#gHb)" d="M626.3,353.3L642.5,355.3L652.1,352.0L635.8,349.9Z"/>
<path fill="url(#gHb)" d="M648.8,356.1L665.1,358.1L674.6,354.7L658.4,352.7Z"/>
<path fill="url(#gHb)" d="M671.4,358.9L687.7,360.9L697.2,357.5L680.9,355.5Z"/>
<path fill="url(#gHb)" d="M694.0,361.7L710.2,363.7L719.8,360.3L703.5,358.3Z"/>
<path fill="url(#gHb)" d="M716.5,364.5L732.8,366.5L742.3,363.1L726.1,361.1Z"/>
<path fill="url(#gHb)" d="M739.1,367.2L755.4,369.2L764.9,365.9L748.7,363.9Z"/>
<path fill="url(#gHb)" d="M761.7,370.0L777.9,372.0L787.5,368.7L771.2,366.7Z"/>
<path fill="url(#gHb)" d="M784.3,372.8L800.5,374.8L810.0,371.5L793.8,369.5Z"/>
<path fill="url(#gHb)" d="M806.8,375.6L823.1,377.6L832.6,374.3L816.4,372.3Z"/>
<path fill="url(#gHb)" d="M829.4,378.4L845.6,380.4L855.2,377.0L838.9,375.0Z"/>
<path fill="url(#gHb)" d="M852.0,381.2L868.2,383.2L877.7,379.8L861.5,377.8Z"/>
<path fill="url(#gHb)" d="M874.5,384.0L890.8,386.0L900.3,382.6L884.1,380.6Z"/>
<path fill="url(#gHc)" d="M463.6,326.2L479.5,328.1L488.8,324.9L472.8,323.0Z"/>
<path fill="url(#gHc)" d="M485.8,328.9L501.7,330.9L511.0,327.7L495.0,325.7Z"/>
<path fill="url(#gHc)" d="M507.9,331.6L523.9,333.6L533.2,330.4L517.2,328.4Z"/>
<path fill="url(#gHc)" d="M530.1,334.3L546.1,336.3L555.4,333.1L539.4,331.1Z"/>
<path fill="url(#gHc)" d="M552.3,337.1L568.3,339.0L577.6,335.8L561.6,333.9Z"/>
<path fill="url(#gHc)" d="M574.5,339.8L590.5,341.7L599.8,338.5L583.8,336.6Z"/>
<path fill="url(#gHc)" d="M596.7,342.5L612.7,344.5L621.9,341.3L606.0,339.3Z"/>
<path fill="url(#gHc)" d="M618.9,345.2L634.8,347.2L644.1,344.0L628.2,342.0Z"/>
<path fill="url(#gHc)" d="M641.1,347.9L657.0,349.9L666.3,346.7L650.3,344.7Z"/>
<path fill="url(#gHc)" d="M663.2,350.7L679.2,352.6L688.5,349.4L672.5,347.5Z"/>
<path fill="url(#gHc)" d="M685.4,353.4L701.4,355.3L710.7,352.1L694.7,350.2Z"/>
<path fill="url(#gHc)" d="M707.6,356.1L723.6,358.1L732.9,354.9L716.9,352.9Z"/>
<path fill="url(#gHc)" d="M729.8,358.8L745.8,360.8L755.1,357.6L739.1,355.6Z"/>
<path fill="url(#gHc)" d="M752.0,361.5L768.0,363.5L777.2,360.3L761.3,358.3Z"/>
<path fill="url(#gHc)" d="M774.2,364.3L790.2,366.2L799.4,363.0L783.5,361.1Z"/>
<path fill="url(#gHc)" d="M796.4,367.0L812.3,368.9L821.6,365.7L805.6,363.8Z"/>
<path fill="url(#gHc)" d="M818.6,369.7L834.5,371.7L843.8,368.5L827.8,366.5Z"/>
<path fill="url(#gHc)" d="M840.7,372.4L856.7,374.4L866.0,371.2L850.0,369.2Z"/>
<path fill="url(#gHc)" d="M862.9,375.1L878.9,377.1L888.2,373.9L872.2,371.9Z"/>
<path fill="url(#gHc)" d="M885.1,377.9L901.1,379.8L910.4,376.6L894.4,374.7Z"/>
<path fill="url(#gHc)" d="M481.0,321.6L496.7,323.5L505.7,320.5L490.0,318.6Z"/>
<path fill="url(#gHc)" d="M502.8,324.3L518.5,326.2L527.5,323.1L511.8,321.2Z"/>
<path fill="url(#gHc)" d="M524.6,326.9L540.3,328.8L549.3,325.8L533.6,323.9Z"/>
<path fill="url(#gHc)" d="M546.4,329.6L562.1,331.5L571.1,328.4L555.4,326.5Z"/>
<path fill="url(#gHc)" d="M568.2,332.2L583.9,334.1L592.9,331.1L577.2,329.2Z"/>
<path fill="url(#gHc)" d="M590.0,334.9L605.7,336.8L614.8,333.7L599.1,331.8Z"/>
<path fill="url(#gHc)" d="M611.8,337.5L627.5,339.4L636.6,336.4L620.9,334.5Z"/>
<path fill="url(#gHc)" d="M633.6,340.2L649.3,342.1L658.4,339.0L642.7,337.1Z"/>
<path fill="url(#gHc)" d="M655.4,342.8L671.1,344.7L680.2,341.7L664.5,339.8Z"/>
<path fill="url(#gHc)" d="M677.2,345.5L692.9,347.4L702.0,344.3L686.3,342.4Z"/>
<path fill="url(#gHc)" d="M699.1,348.1L714.8,350.0L723.8,347.0L708.1,345.1Z"/>
<path fill="url(#gHc)" d="M720.9,350.8L736.6,352.7L745.6,349.6L729.9,347.7Z"/>
<path fill="url(#gHc)" d="M742.7,353.4L758.4,355.3L767.4,352.3L751.7,350.4Z"/>
<path fill="url(#gHc)" d="M764.5,356.1L780.2,358.0L789.2,354.9L773.5,353.0Z"/>
<path fill="url(#gHc)" d="M786.3,358.7L802.0,360.6L811.0,357.6L795.3,355.7Z"/>
<path fill="url(#gHc)" d="M808.1,361.4L823.8,363.3L832.8,360.2L817.1,358.3Z"/>
<path fill="url(#gHc)" d="M829.9,364.0L845.6,365.9L854.6,362.9L838.9,361.0Z"/>
<path fill="url(#gHc)" d="M851.7,366.7L867.4,368.6L876.4,365.6L860.7,363.6Z"/>
<path fill="url(#gHc)" d="M873.5,369.3L889.2,371.2L898.2,368.2L882.5,366.3Z"/>
<path fill="url(#gHc)" d="M895.3,372.0L911.0,373.9L920.0,370.9L904.3,368.9Z"/>
<path fill="url(#gHc)" d="M498.0,317.3L513.5,319.1L522.2,316.2L506.8,314.4Z"/>
<path fill="url(#gHc)" d="M519.5,319.9L534.9,321.7L543.7,318.8L528.2,317.0Z"/>
<path fill="url(#gHc)" d="M540.9,322.4L556.3,324.3L565.1,321.4L549.7,319.5Z"/>
<path fill="url(#gHc)" d="M562.3,325.0L577.7,326.9L586.5,324.0L571.1,322.1Z"/>
<path fill="url(#gHc)" d="M583.7,327.6L599.2,329.5L607.9,326.6L592.5,324.7Z"/>
<path fill="url(#gHc)" d="M605.2,330.2L620.6,332.0L629.3,329.2L613.9,327.3Z"/>
<path fill="url(#gHc)" d="M626.6,332.8L642.0,334.6L650.8,331.7L635.3,329.9Z"/>
<path fill="url(#gHc)" d="M648.0,335.4L663.4,337.2L672.2,334.3L656.8,332.5Z"/>
<path fill="url(#gHc)" d="M669.4,337.9L684.9,339.8L693.6,336.9L678.2,335.0Z"/>
<path fill="url(#gHc)" d="M690.9,340.5L706.3,342.4L715.0,339.5L699.6,337.6Z"/>
<path fill="url(#gHc)" d="M712.3,343.1L727.7,345.0L736.5,342.1L721.0,340.2Z"/>
<path fill="url(#gHc)" d="M733.7,345.7L749.1,347.6L757.9,344.7L742.5,342.8Z"/>
<path fill="url(#gHc)" d="M755.1,348.3L770.5,350.1L779.3,347.2L763.9,345.4Z"/>
<path fill="url(#gHc)" d="M776.5,350.9L792.0,352.7L800.7,349.8L785.3,348.0Z"/>
<path fill="url(#gHc)" d="M798.0,353.4L813.4,355.3L822.2,352.4L806.7,350.6Z"/>
<path fill="url(#gHc)" d="M819.4,356.0L834.8,357.9L843.6,355.0L828.2,353.1Z"/>
<path fill="url(#gHc)" d="M840.8,358.6L856.2,360.5L865.0,357.6L849.6,355.7Z"/>
<path fill="url(#gHc)" d="M862.2,361.2L877.7,363.1L886.4,360.2L871.0,358.3Z"/>
<path fill="url(#gHc)" d="M883.7,363.8L899.1,365.6L907.9,362.7L892.4,360.9Z"/>
<path fill="url(#gHc)" d="M905.1,366.4L920.5,368.2L929.3,365.3L913.9,363.5Z"/>
<path fill="url(#gHc)" d="M514.7,313.2L529.8,315.0L538.3,312.2L523.2,310.4Z"/>
<path fill="url(#gHc)" d="M535.7,315.7L550.9,317.5L559.4,314.8L544.2,312.9Z"/>
<path fill="url(#gHc)" d="M556.8,318.2L571.9,320.0L580.4,317.3L565.3,315.5Z"/>
<path fill="url(#gHc)" d="M577.8,320.7L592.9,322.5L601.5,319.8L586.3,318.0Z"/>
<path fill="url(#gHc)" d="M598.8,323.2L614.0,325.0L622.5,322.3L607.4,320.5Z"/>
<path fill="url(#gHc)" d="M619.9,325.8L635.0,327.6L643.5,324.8L628.4,323.0Z"/>
<path fill="url(#gHc)" d="M640.9,328.3L656.1,330.1L664.6,327.3L649.4,325.5Z"/>
<path fill="url(#gHc)" d="M662.0,330.8L677.1,332.6L685.6,329.9L670.5,328.0Z"/>
<path fill="url(#gHc)" d="M683.0,333.3L698.2,335.1L706.7,332.4L691.5,330.6Z"/>
<path fill="url(#gHc)" d="M704.1,335.8L719.2,337.6L727.7,334.9L712.6,333.1Z"/>
<path fill="url(#gHc)" d="M725.1,338.3L740.2,340.1L748.8,337.4L733.6,335.6Z"/>
<path fill="url(#gHc)" d="M746.1,340.8L761.3,342.7L769.8,339.9L754.7,338.1Z"/>
<path fill="url(#gHc)" d="M767.2,343.4L782.3,345.2L790.8,342.4L775.7,340.6Z"/>
<path fill="url(#gHc)" d="M788.2,345.9L803.4,347.7L811.9,345.0L796.7,343.1Z"/>
<path fill="url(#gHc)" d="M809.3,348.4L824.4,350.2L832.9,347.5L817.8,345.7Z"/>
<path fill="url(#gHc)" d="M830.3,350.9L845.5,352.7L854.0,350.0L838.8,348.2Z"/>
<path fill="url(#gHc)" d="M851.4,353.4L866.5,355.2L875.0,352.5L859.9,350.7Z"/>
<path fill="url(#gHc)" d="M872.4,355.9L887.5,357.8L896.1,355.0L880.9,353.2Z"/>
<path fill="url(#gHc)" d="M893.4,358.5L908.6,360.3L917.1,357.5L901.9,355.7Z"/>
<path fill="url(#gHc)" d="M914.5,361.0L929.6,362.8L938.1,360.0L923.0,358.2Z"/>
<path fill="url(#gHc)" d="M530.9,309.3L545.8,311.1L554.0,308.5L539.2,306.7Z"/>
<path fill="url(#gHc)" d="M551.6,311.8L566.4,313.5L574.7,310.9L559.8,309.2Z"/>
<path fill="url(#gHc)" d="M572.2,314.2L587.1,316.0L595.4,313.4L580.5,311.6Z"/>
<path fill="url(#gHc)" d="M592.9,316.7L607.8,318.4L616.0,315.8L601.1,314.1Z"/>
<path fill="url(#gHc)" d="M613.5,319.1L628.4,320.9L636.7,318.3L621.8,316.5Z"/>
<path fill="url(#gHc)" d="M634.2,321.6L649.1,323.3L657.3,320.7L642.5,319.0Z"/>
<path fill="url(#gHc)" d="M654.9,324.0L669.7,325.8L678.0,323.2L663.1,321.4Z"/>
<path fill="url(#gHc)" d="M675.5,326.5L690.4,328.2L698.7,325.6L683.8,323.9Z"/>
<path fill="url(#gHc)" d="M696.2,328.9L711.1,330.7L719.3,328.1L704.5,326.3Z"/>
<path fill="url(#gHc)" d="M716.9,331.3L731.7,333.1L740.0,330.5L725.1,328.8Z"/>
<path fill="url(#gHc)" d="M737.5,333.8L752.4,335.6L760.7,333.0L745.8,331.2Z"/>
<path fill="url(#gHc)" d="M758.2,336.2L773.1,338.0L781.3,335.4L766.4,333.7Z"/>
<path fill="url(#gHc)" d="M778.8,338.7L793.7,340.5L802.0,337.9L787.1,336.1Z"/>
<path fill="url(#gHc)" d="M799.5,341.1L814.4,342.9L822.6,340.3L807.8,338.6Z"/>
<path fill="url(#gHc)" d="M820.2,343.6L835.0,345.4L843.3,342.8L828.4,341.0Z"/>
<path fill="url(#gHc)" d="M840.8,346.0L855.7,347.8L864.0,345.2L849.1,343.4Z"/>
<path fill="url(#gHc)" d="M861.5,348.5L876.4,350.2L884.6,347.7L869.7,345.9Z"/>
<path fill="url(#gHc)" d="M882.1,350.9L897.0,352.7L905.3,350.1L890.4,348.3Z"/>
<path fill="url(#gHc)" d="M902.8,353.4L917.7,355.1L925.9,352.6L911.1,350.8Z"/>
<path fill="url(#gHc)" d="M923.5,355.8L938.3,357.6L946.6,355.0L931.7,353.2Z"/>
<path fill="url(#gHc)" d="M546.7,305.7L561.3,307.4L569.3,305.0L554.7,303.3Z"/>
<path fill="url(#gHc)" d="M567.0,308.1L581.6,309.8L589.6,307.4L575.0,305.6Z"/>
<path fill="url(#gHc)" d="M587.3,310.5L601.9,312.2L609.9,309.7L595.3,308.0Z"/>
<path fill="url(#gHc)" d="M607.6,312.8L622.2,314.6L630.2,312.1L615.6,310.4Z"/>
<path fill="url(#gHc)" d="M627.9,315.2L642.5,316.9L650.5,314.5L635.9,312.8Z"/>
<path fill="url(#gHc)" d="M648.1,317.6L662.7,319.3L670.7,316.9L656.1,315.2Z"/>
<path fill="url(#gHc)" d="M668.4,320.0L683.0,321.7L691.0,319.3L676.4,317.5Z"/>
<path fill="url(#gHc)" d="M688.7,322.4L703.3,324.1L711.3,321.6L696.7,319.9Z"/>
<path fill="url(#gHc)" d="M709.0,324.7L723.6,326.5L731.6,324.0L717.0,322.3Z"/>
<path fill="url(#gHc)" d="M729.3,327.1L743.9,328.8L751.9,326.4L737.3,324.7Z"/>
<path fill="url(#gHc)" d="M749.5,329.5L764.1,331.2L772.1,328.8L757.5,327.1Z"/>
<path fill="url(#gHc)" d="M769.8,331.9L784.4,333.6L792.4,331.2L777.8,329.4Z"/>
<path fill="url(#gHc)" d="M790.1,334.3L804.7,336.0L812.7,333.5L798.1,331.8Z"/>
<path fill="url(#gHc)" d="M810.4,336.6L825.0,338.4L833.0,335.9L818.4,334.2Z"/>
<path fill="url(#gHc)" d="M830.7,339.0L845.3,340.7L853.3,338.3L838.7,336.6Z"/>
<path fill="url(#gHc)" d="M850.9,341.4L865.5,343.1L873.5,340.7L858.9,339.0Z"/>
<path fill="url(#gHc)" d="M871.2,343.8L885.8,345.5L893.8,343.1L879.2,341.3Z"/>
<path fill="url(#gHc)" d="M891.5,346.2L906.1,347.9L914.1,345.4L899.5,343.7Z"/>
<path fill="url(#gHc)" d="M911.8,348.5L926.4,350.3L934.4,347.8L919.8,346.1Z"/>
<path fill="url(#gHc)" d="M932.1,350.9L946.7,352.6L954.7,350.2L940.1,348.5Z"/>
</g></g>
<g clip-path="url(#cGrid)" filter="url(#fBlur2)" fill="#2a2a28" opacity="0.45">
<path d="M441,395 L507,394 L512,402 L444,405 Z"/>
<path d="M548,367 L615,368 L619,375 L550,376 Z"/>
<path d="M649,351.5 L683,351.5 L686,357 L651,358 Z"/>
<path d="M505,395 C520,392.5 538,388 543.5,384 C547,380 548.5,373 549.9,367.8 L553,373 C551,382 546,389 530,394 L508,399 Z"/>
</g>
<g clip-path="url(#cGrid)" filter="url(#fBlur2)" fill="#a8a8a4" opacity="0.6">
<path d="M434,402 L446,400 L444,425 L436,436 L428,436 Z"/>
</g>
<!-- band (right edge of grid) -->
<path d="M571,456 L594,435 L620,416 L645,402 L684,389 L722,380 L752,373 L785,365.5 L785,371.5 L748,380.8 L722,386 L684,396 L645.6,409.5 L620,423.6 L600,441 L577,463 Z" fill="url(#gBand)"/>
<path d="M769,371 L783,359 L785.5,358 L785.5,371.5 Z" fill="#c4c4bc"/><path d="M783,359 L785.5,358 L785.5,371.5 L783,371 Z" fill="#ececE6"/>
<!-- front lip -->
<path d="M423,442 C460,446 520,452 571,459 L571,487 C520,482 460,476 423,471 Z" fill="url(#gLip)"/>
<path d="M423,471 C460,476 520,482 571,487 L571,492 C520,489 460,483 423,477 Z" fill="url(#gUnder)"/>
<rect x="571" y="456" width="7" height="40" fill="#eeeee9"/>
<rect x="573.5" y="462" width="1.2" height="34" fill="#c8c8c0"/>

<!-- arrows -->
<g fill="none" stroke="#000" stroke-width="2.6" stroke-linecap="butt">
<path d="M144.7,209 L149.2,440 C149.5,468 200,478.5 260,483 C310,486 360,485 492,474.5"/>
<path d="M465,283.5 C520,287.5 557.5,270 556.8,235 C556.8,215 568,200 590,200.5 C605,200.5 615,202.5 625,204.2"/>
<path d="M642,437.3 C610,440 590,465 582,500 C575,530 576,570 568,595 C558,620 520,620 493,617"/>
<path d="M704,445.3 C740,432 790,432 815,463 C835,488 840,515 840.5,546"/>
</g>
<g fill="#2a2a2e" stroke="#000" stroke-width="2.6" stroke-linejoin="miter" stroke-miterlimit="10">
<path d="M144.2,194.2 L136.5,208.1 L152.3,208.1 Z"/>
<path d="M475.6,614.7 L493.2,608.0 L490.1,626.0 Z"/>
<path d="M832.3,546.6 L848.4,547.0 L840.2,560.5 Z"/>
<path d="M634.0,201.6 L625.9,198.1 L627.1,206.9 Z" fill="#222226" stroke="#1c1c20"/>
</g>
<rect x="270" y="325" width="1.2" height="1.2" fill="#222"/>
</svg>
<div class="t tw" style="left:324.2px;transform:scaleX(0.878)">CẤU</div>
<div class="t tw" style="left:398.7px;transform:scaleX(0.872)">TRÚC</div>
<div class="t tw" style="left:492.2px;transform:scaleX(0.94)">NỆM</div>
<div class="t tw" style="left:573.95px;transform:scaleX(0.947)">4</div>
<div class="t tw" style="left:602.1px;transform:scaleX(0.819)">LỚP</div>
<div class="t lab" id="l2" style="left:21.01px;top:166.8px;transform:scaleX(0.9441)">Level 2: Lớp tấm nhựa đặc biệt có nhiều lỗ giúp tăng độ đàn hồi</div>
<div class="t lab" id="l1" style="left:645.67px;top:182.8px;transform:scaleX(0.9321)">Level 1: Lớp đệm cao su bền bỉ và khả năng phục hồi cao</div>
<div class="t lab" id="l4" style="left:768.45px;top:572.8px;transform:scaleX(0.9474)">level 4: Tấm kim loại tích hợp dày 2.5 mm</div>
<div class="t lab" id="l3" style="left:271.47px;top:604.8px;transform:scaleX(0.9324)">level 3: Lớp lò xo giảm chấn</div>
</body></html>
